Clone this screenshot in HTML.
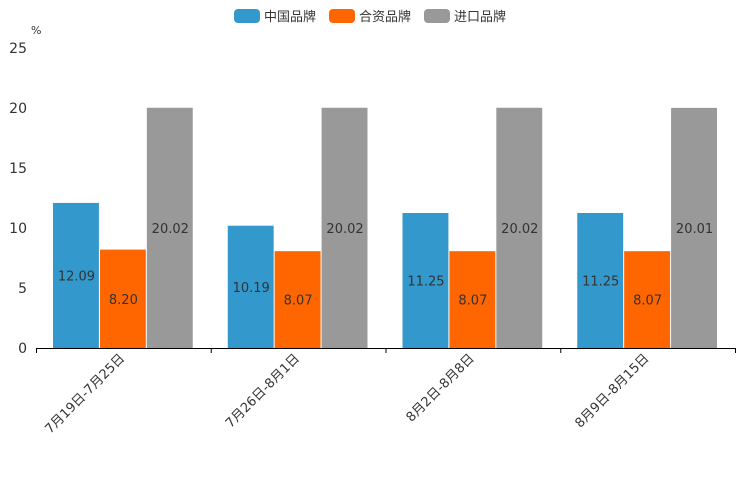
<!DOCTYPE html>
<html><head><meta charset="utf-8"><style>
body{margin:0;background:#fff;}
svg{display:block;font-family:"DejaVu Sans","Liberation Sans","Noto Sans CJK SC",sans-serif;}
</style></head><body>
<svg id="chart" width="744" height="496">
<g id="legend">
<g><rect x="234" y="9" width="26" height="14" rx="4" fill="#3399cc"/><text x="264" y="21" font-size="13" fill="#333">中国品牌</text></g>
<g><rect x="329" y="9" width="26" height="14" rx="4" fill="#ff6600"/><text x="359" y="21" font-size="13" fill="#333">合资品牌</text></g>
<g><rect x="424" y="9" width="26" height="14" rx="4" fill="#999999"/><text x="454" y="21" font-size="13" fill="#333">进口品牌</text></g>
</g>
<text x="31" y="34" font-size="11" fill="#333">%</text>
<g id="yaxis"></g>
<g id="bars"></g>
<g id="xaxis"></g>
</svg>
<script>
const categories = ["7月19日-7月25日","7月26日-8月1日","8月2日-8月8日","8月9日-8月15日"];
const chinaValues = [12.09, 10.19, 11.25, 11.25];
const jointValues = [8.20, 8.07, 8.07, 8.07];
const importValues = [20.02, 20.02, 20.02, 20.01];
const yTicks = [0,5,10,15,20,25];
const NS="http://www.w3.org/2000/svg";
const plotLeft=36,plotRight=735,plotTop=48,plotBottom=348,yMax=25;
const yScale=v=>plotBottom-(v/yMax)*(plotBottom-plotTop);
const bandW=(plotRight-plotLeft)/categories.length;
const bx=i=>plotLeft+i*bandW;
function mk(tag,attrs,parent,txt){const e=document.createElementNS(NS,tag);for(const k in attrs)e.setAttribute(k,attrs[k]);if(txt!==undefined)e.textContent=txt;parent.appendChild(e);return e;}
const ya=document.getElementById('yaxis');
yTicks.forEach(t=>{
  const e=mk('text',{x:27,y:yScale(t)+5,'font-size':14,fill:'#333','text-anchor':'end'},ya,String(t));
  
  
});
const barsG=document.getElementById('bars');
const series=[[chinaValues,'#3399cc','china'],[jointValues,'#ff6600','joint'],[importValues,'#999999','import']];
const pad=17,bw=(bandW-2*pad)/3;
categories.forEach((c,i)=>{
  series.forEach(([vals,col,nm],s)=>{
    const x0=bx(i)+pad+s*bw;
    const r=mk('rect',{x:x0,y:yScale(vals[i]),width:bw-1,height:plotBottom-yScale(vals[i]),fill:col},barsG);
    
    
    const t=mk('text',{x:x0+bw/2,y:(yScale(vals[i])+plotBottom)/2+5,'font-size':13,fill:'#333','text-anchor':'middle'},barsG,vals[i].toFixed(2));
    
    
  });
});
const xa=document.getElementById('xaxis');
const ax=mk('line',{x1:plotLeft,y1:plotBottom+0.5,x2:plotRight,y2:plotBottom+0.5,stroke:'#000','stroke-width':1},xa);


for(let i=0;i<=categories.length;i++){
  const tk=mk('line',{x1:bx(i)+0.5,y1:plotBottom,x2:bx(i)+0.5,y2:plotBottom+5,stroke:'#000'},xa);
  
  
}
categories.forEach((c,i)=>{
  const cx=bx(i)+bandW/2+2,cy=plotBottom+11;
  const t=mk('text',{x:cx,y:cy,'font-size':13,fill:'#333','text-anchor':'end',transform:`rotate(-45 ${cx} ${cy})`},xa,c);
  
  
});
</script>
</body></html>
